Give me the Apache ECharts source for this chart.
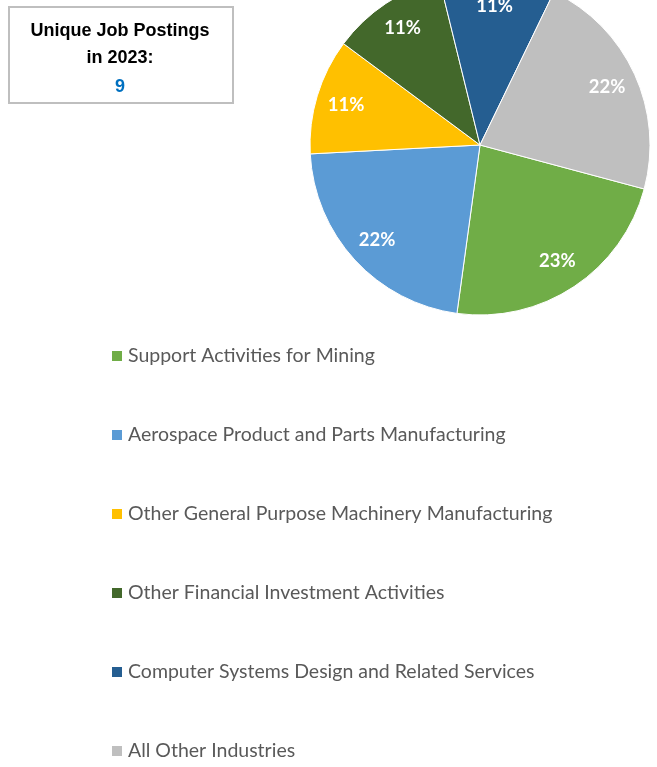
<!DOCTYPE html>
<html>
<head>
<meta charset="utf-8">
<script src="https://cdn.jsdelivr.net/npm/echarts@6/dist/echarts.min.js"></script>
<style>
  html, body { margin: 0; padding: 0; background: #ffffff; }
  #chart { width: 657px; height: 767px; }
</style>
</head>
<body>
<div id="chart"></div>
<script>
// Industry shares of unique job postings (percent)
const industries = [
  'Support Activities for Mining',
  'Aerospace Product and Parts Manufacturing',
  'Other General Purpose Machinery Manufacturing',
  'Other Financial Investment Activities',
  'Computer Systems Design and Related Services',
  'All Other Industries'
];
const shares = [23, 22, 11, 11, 11, 22];
const sliceColors = ['#70AD47', '#5B9BD5', '#FFC000', '#43682B', '#255E91', '#BFBFBF'];
const headerLines = ['Unique Job Postings', 'in 2023:'];
const totalPostings = '9';

const pieData = industries.map((name, i) => ({
  name: name,
  value: shares[i],
  itemStyle: { color: sliceColors[i] }
}));

const center = [480, 145];
const pieRadius = 170;
const startAngle = -15;
const boxFont = 'Liberation Sans Narrow, Arial Narrow, Liberation Sans';

function headerText(text, y, fill) {
  return {
    type: 'text',
    x: 120,
    y: y,
    style: {
      text: text,
      fontFamily: boxFont,
      fontWeight: 'bold',
      fontSize: 18,
      fill: fill,
      align: 'center',
      verticalAlign: 'middle'
    }
  };
}

const chart = echarts.init(document.getElementById('chart'), null, { renderer: 'canvas' });

chart.setOption({
  animation: false,
  backgroundColor: '#ffffff',
  legend: {
    orient: 'vertical',
    left: 110,
    top: 346,
    height: 420,
    padding: 0,
    itemWidth: 12,
    itemHeight: 12,
    itemGap: 59,
    icon: 'rect',
    data: industries,
    selectedMode: false,
    textStyle: {
      fontFamily: 'Lato',
      fontSize: 19.5,
      color: '#595959'
    }
  },
  graphic: [
    {
      type: 'rect',
      left: 8,
      top: 6,
      shape: { width: 224, height: 96 },
      style: { fill: '#ffffff', stroke: '#BFBFBF', lineWidth: 2 }
    },
    headerText(headerLines[0], 31, '#000000'),
    headerText(headerLines[1], 58, '#000000'),
    headerText(totalPostings, 87, '#0070C0')
  ],
  series: [
    {
      type: 'pie',
      center: center,
      radius: [0, pieRadius],
      startAngle: startAngle,
      clockwise: true,
      silent: true,
      data: pieData,
      label: { show: false },
      labelLine: { show: false },
      itemStyle: { borderColor: '#ffffff', borderWidth: 1 }
    },
    {
      // transparent companion ring so percentage labels sit near the rim
      type: 'pie',
      center: center,
      radius: [0, pieRadius * 1.61],
      startAngle: startAngle,
      clockwise: true,
      silent: true,
      data: industries.map((name, i) => ({ name: name, value: shares[i] })),
      itemStyle: { color: 'rgba(0,0,0,0)' },
      label: {
        show: true,
        position: 'inside',
        formatter: p => p.value + '%',
        fontFamily: 'Lato',
        fontWeight: 'bold',
        fontSize: 18.5,
        color: '#ffffff'
      },
      labelLine: { show: false }
    }
  ]
});
</script>
</body>
</html>
